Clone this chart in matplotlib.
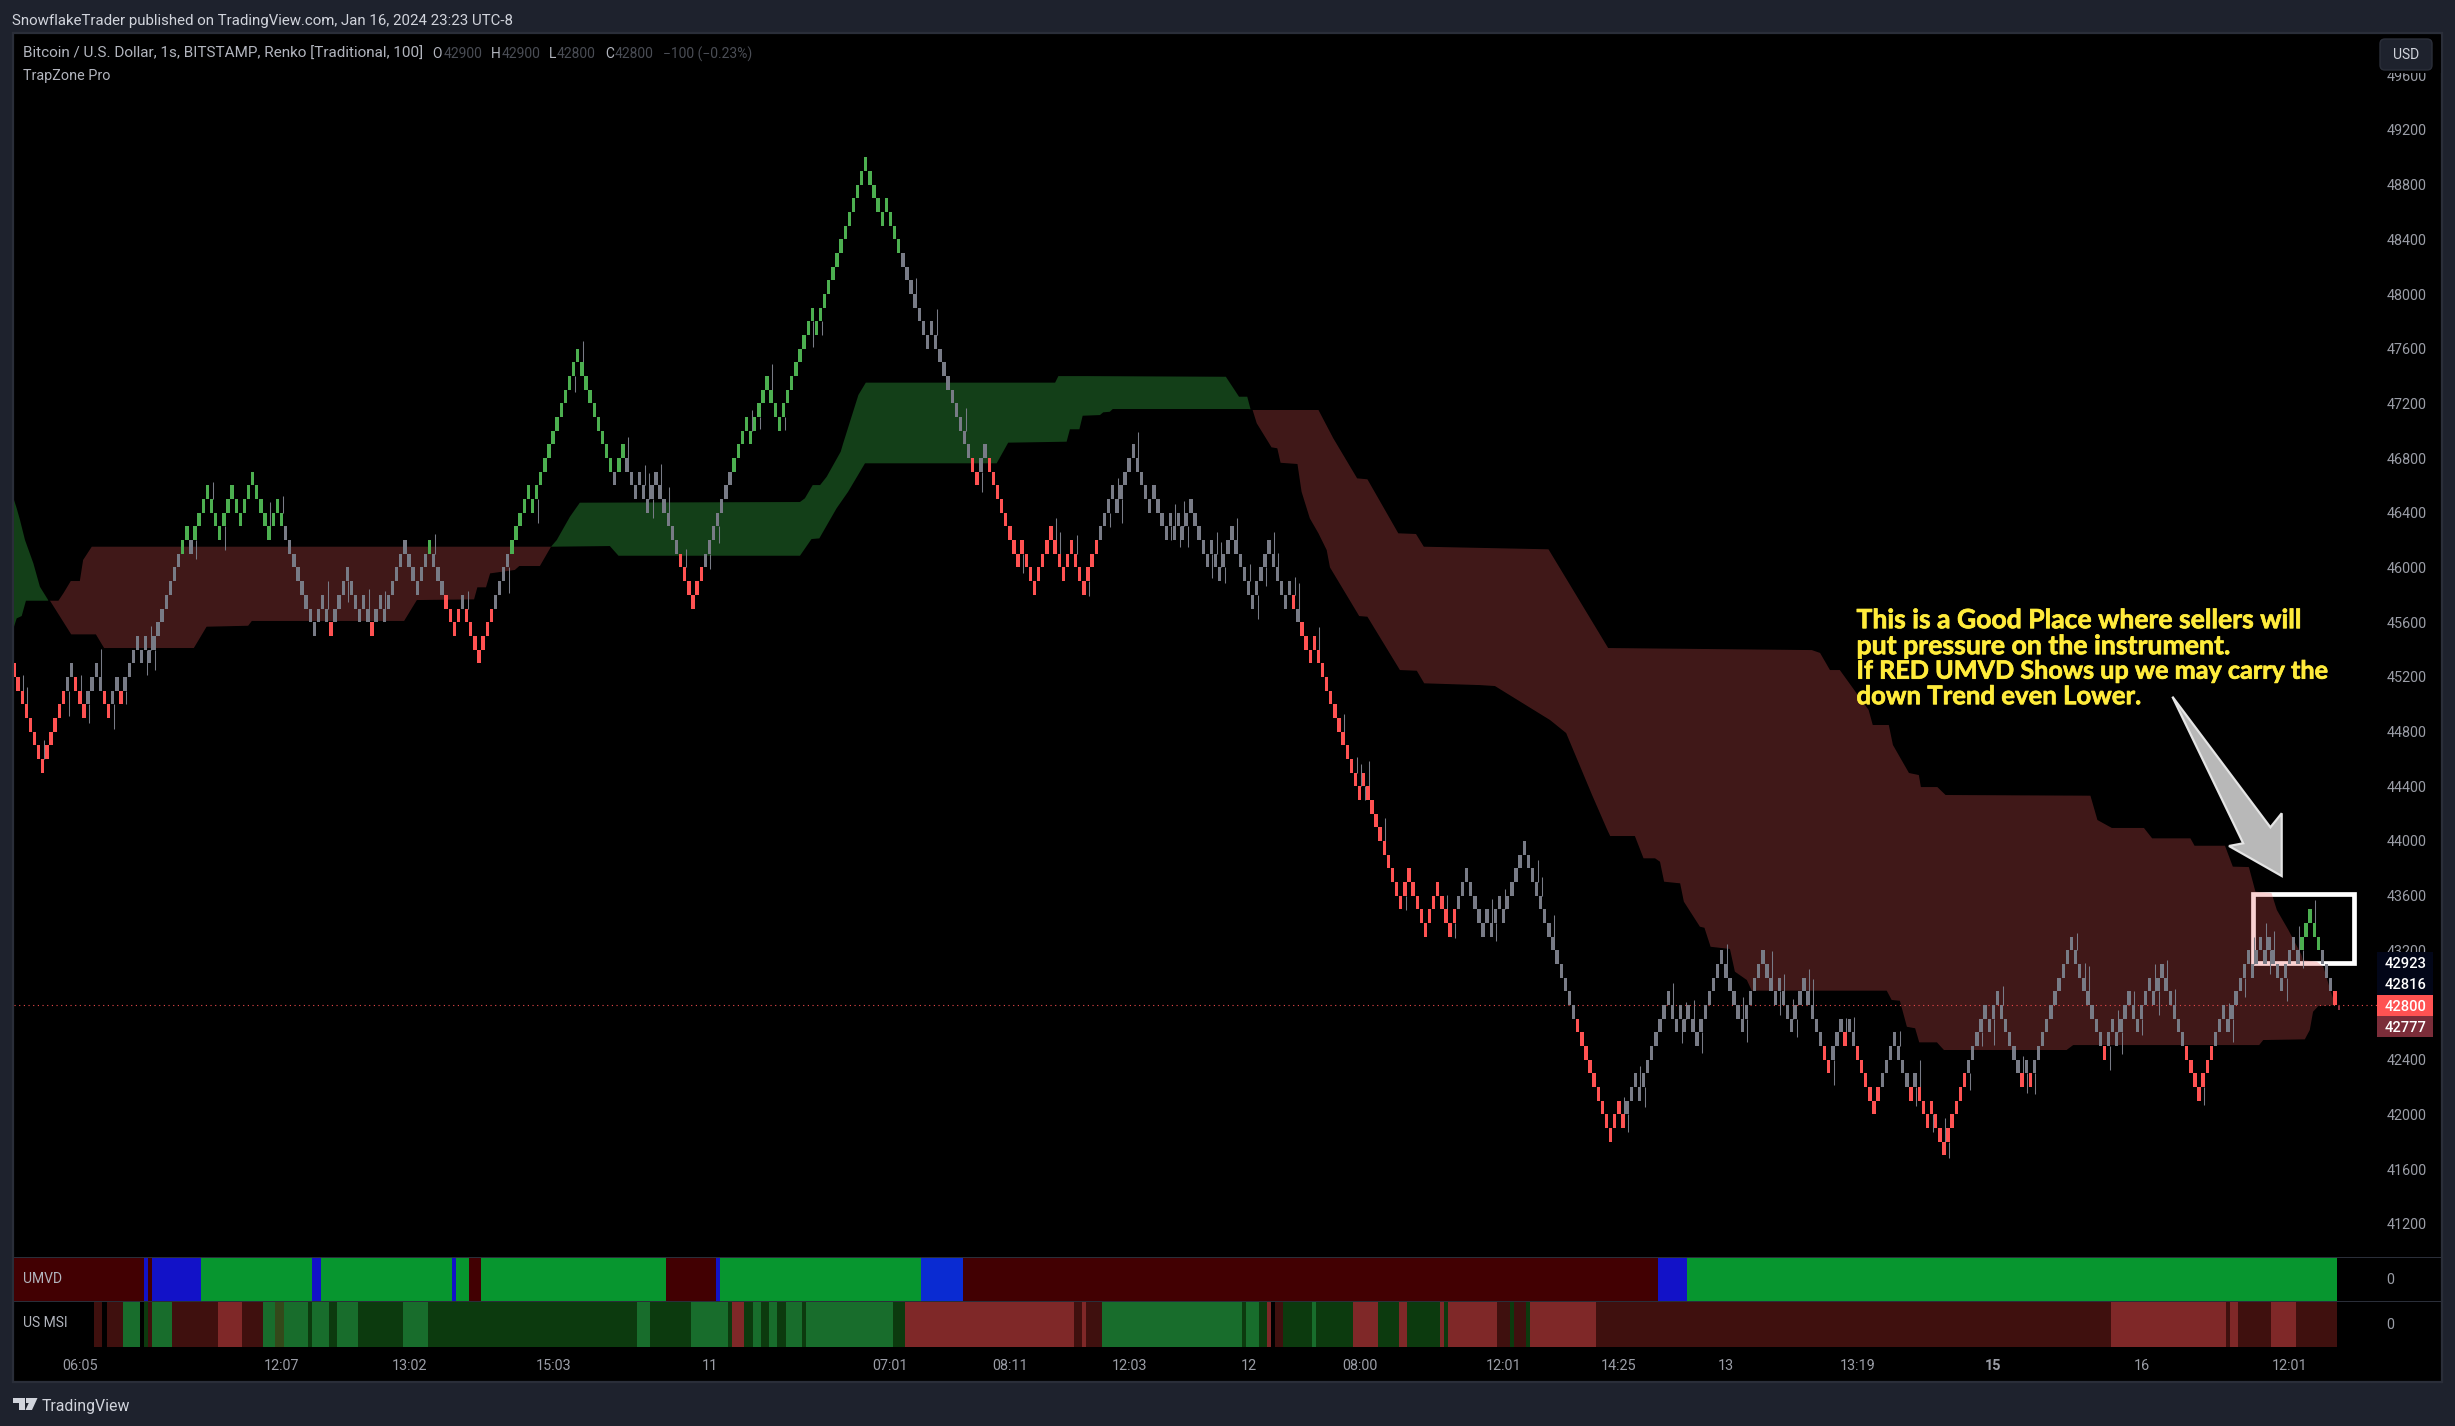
import matplotlib
matplotlib.use("Agg")
import matplotlib.pyplot as plt
import matplotlib.patheffects as pe
from matplotlib.patches import Rectangle, Polygon, FancyBboxPatch
import numpy as np

plt.rcParams['font.family'] = ['Roboto', 'DejaVu Sans']

W, H = 2455, 1426
BG, PANEL, LINE = '#1e222d', '#000000', '#2a2e39'
TXT, DIM, AXT = '#b2b5be', '#4a4d55', '#9a9da6'
GRAY, RED, GREEN = '#787b86', '#ff5252', '#4caf50'

# Renko bricks: (colour kind, lower edge of each brick in hundreds of USD)
brick_runs = [
 ('R',[452,451,450,449,448,447,446,445,446,447,448,449,450]),
 ('N',[451,452]), ('R',[451,450,449]), ('N',[450,451,452,451]), ('R',[450,449]),
 ('N',[450,451]), ('R',[450]),
 ('N',[451,452,453,454,453,454,453,454,455,456,457,458,459,460]),
 ('G',[461,462]), ('N',[461]),
 ('G',[462,463,464,465,464,463,462,463,464,465,464,463,464,465,466,465,464,463,462,463,464,463]),
 ('N',[462,461,460,459,458,457,456,455,456,457,456]), ('R',[455]),
 ('N',[456,457,458,459,458,457,456,457,456]), ('R',[455]),
 ('N',[456,457,456,457,458,459,460,461,460,459,458,459,460]), ('G',[461]),
 ('N',[460,459,458]), ('R',[457,456,455,456]), ('N',[457]),
 ('R',[456,455,454,453,454,455,456]), ('N',[457,458,459,460]),
 ('G',[461,462,463,464,465,464,465,466,467,468,469,470,471,472,473,474,475,474,473,472,471,470,469,468,467]),
 ('N',[466]), ('G',[467,468]),
 ('N',[467,466,465,466,465,464,465,466,465,464,463,462,461]),
 ('R',[460,459,458,457,458,459]), ('N',[460,461,462,463,464,465,466]),
 ('G',[467,468,469,470,469,470,471,472,473,472,471,470,471,472,473,474,475,476,477,478,477,478,479,480,481,482,483,484,485,486,487,488,489,488,487,486,485,486,485,484,483]),
 ('N',[482,481,480,479,478,477,476,477,476,475,474,473,472,471,470,469,468]),
 ('R',[467,466]), ('N',[467,468]),
 ('R',[467,466,465,464,463,462,461,460,461,460,459,458,459,460,461,462,461,460,459,460,461,460,459,458,459,460,461]),
 ('N',[462,463,464,465,464,465,466,467,468,467,466,465,464,465,464,463,462,463,462,463,462,463,464,463,462,461,460,461,460,459,460,461,462,461,460,459,458,457,458,459,460,461,460,459,458,457,458]),
 ('R',[457]), ('N',[456]),
 ('R',[455,454,453,454,453,452,451,450,449,448,447,446,445,444,443,444,443,442,441,440,439,438,437,436,435,436,437,436,435,434,433,434,435,436,435,434,433,434]),
 ('N',[435,436,437,436,435,434]),
 ('N',[433,434,433,434,435,434,435,436,437,438,439,438,437,436,435,434,433,432,431,430,429,428,427]),
 ('R',[426,425,424,423,422,421,420,419,418,419,420,419]),
 ('N',[420,421,422,421,422,423,424,425,426,427,428,427,426,427,426,427,426,425,426,427,428,429,430,431,430,429,428,427,426,427,428,429,430,431,430,429,428,429,428,427,426,427,428,429,428,427,426,425]),
 ('R',[424,423]), ('N',[424,425,426]), ('R',[425]), ('N',[426,425]),
 ('R',[424,423,422,421,420,421]), ('N',[422,423,424,425,424,423,422]),
 ('R',[421]), ('N',[422]),
 ('R',[421,420,419,420,419,418,417,418,419,420,421,422]), ('N',[423]),
 ('N',[424,425,426,427,426,427,428,427,426,425,424,423]), ('R',[422]), ('N',[423]), ('R',[422]),
 ('N',[423,424,425,426,427,428,429,430,431,432,431,430,429,428,427,426,425]), ('R',[424]),
 ('N',[425,426,425,426,427,428,427,426,427,428,429,428,429,430,429,428,427,426,425]),
 ('R',[424,423,422,421,422,423,424]),
 ('N',[425,426,427,426,427,428,429,430,431,430,431,432,431,432,431,430,429,430,431,432,431]),
 ('G',[432,433,434,433,432]), ('N',[431,430,429]), ('R',[428]),
]
BRICK = 100

# Wick extremes: bar index and price reached
wick_idx = [2,3,7,13,16,18,21,24,27,32,33,34,44,48,51,62,65,76,81,86,90,102,110,
 120,127,136,138,149,153,154,155,157,159,163,169,171,179,181,184,187,194,196,219,224,231,235,
 273,253,254,245,258,261,266,268,269,281,282,283,284,285,291,292,293,294,297,300,302,304,306,307,311,312,317,323,326,327,328,329,333,338,348,350,
 359,360,362,370,371,374,381,391,392,395,396,403,405,406,408,410,416,420,421,427,429,430,432,433,436,437,442,445,447,458,463,462,466,469,470,475,
 478,481,483,488,489,491,501,503,504,509,511,512,515,517,520,521,523,525,532,538,539,542,544,547,548,549,552,555,556,559]
wick_price = [45214,45128,44738,44914,45214,44865,45404,44821,45001,45214,45574,45250,46062,46628,46128,46481,46525,45901,45750,45843,45828,46245,45828,
 45816,46328,47286,47657,46952,46750,46689,46359,46757,46586,46133,45986,46177,47152,47010,47486,47006,47615,47700,48115,47888,47164,46555,
 46989,46359,46262,45957,46238,45794,46299,46652,46328,46201,46462,46152,46489,46152,45921,46262,46184,45889,46359,46023,45623,45867,46257,46104,45928,45884,45562,44926,44611,44563,44299,44587,44165,43495,43605,43288,
 43573,43271,43646,43861,43734,43458,42598,42130,41874,42354,42056,42958,42520,42824,42837,42446,43244,42861,42532,43195,42727,43027,42841,42564,43061,42988,42215,42702,42710,42610,42398,42061,41874,41971,41679,42178,
 42503,42507,42939,42429,42159,42149,43329,43105,43088,42325,42763,42442,42905,42581,43097,42727,43129,42917,42071,42812,42532,42856,43300,43402,43027,43341,42829,43378,43068,43568]

# TrapZone bands: bar index and price of each outline
g0_up_i = [0,.65,1.46,2.67,4.7,6.3,8.3]
g0_up_p = [46494,46433,46347,46201,46031,45859,45762]
g0_lo_i = [0,.65,1.87,2.9,8.3]
g0_lo_p = [45567,45628,45645,45757,45757]

r1_up_i = [8.75,10.8,12,13.8,16,16.8,18.9,130.5]
r1_up_p = [45757,45757,45811,45901,45901,46055,46152,46152]
r1_lo_i = [8.75,13.9,19.9,21.9,43.7,46.8,56.9,57.8,94.8,97.9,111.8,112.6,114.7,115.7,121.7,122.8,127.8,130.5]
r1_lo_p = [45757,45511,45511,45411,45411,45567,45574,45609,45609,45762,45767,45855,45855,45957,45982,46011,46011,46152]

g2_up_i = [130.5,131.9,135.1,137.5,191,192.2,194.1,195.9,197.5,200.9,201.5,205.2,207,253,253.8,260.3,294.5,297.7,299.7,300.5]
g2_up_p = [46152,46201,46371,46474,46479,46506,46603,46603,46664,46847,46908,47262,47352,47352,47400,47400,47395,47249,47249,47157]
g2_lo_i = [130.5,144.8,146.9,191,193.8,195.7,199.9,202.7,206.8,238.8,241.6,255.8,256.6,258.9,259.7,263.9,264.7,266.3,267,300,300.5]
g2_lo_p = [46152,46157,46086,46086,46208,46213,46433,46554,46762,46762,46913,46920,47011,47011,47110,47115,47135,47139,47159,47159,47157]

r3_up_i = [301,317,320.6,326.4,328.9,336.4,340.7,342.6,372.9,387.4,436.9,438.9,441.3,443.7,450.7,451.7,455.6,456.6,460.5,462.9,463.4,467.4,469.4,504.6,506.3,509.8,517.6,519.6,528.9,529.9,537.3,539.2,543.1,544.7,548.6,549.9,552.7,555.9,556.2,559.6,561.2,562.9,564.1]
r3_up_p = [47152,47152,46945,46652,46645,46250,46245,46152,46133,45411,45396,45375,45250,45250,44958,44848,44848,44702,44497,44482,44394,44394,44336,44331,44153,44095,44095,44019,44019,43965,43965,43812,43809,43629,43619,43495,43349,43166,43129,43117,43080,42910,42800]
r3_lo_i = [301,302,305.6,307,307.8,311.9,312.9,314.9,317,319,319.8,326.9,328.9,336.8,340.9,342.7,356.3,359.9,373.3,377.2,383.5,387.2,387.9,393.9,396,398.8,400,401,404.9,405.8,409.7,410.8,412.3,417,418.2,421.1,422.3,455.1,456.3,458.3,460,462,463,467.3,469,498.8,500.4,545.6,546.6,556.7,557.9,558.7,560,564.1]
r3_lo_p = [47152,47055,46879,46872,46766,46757,46554,46360,46250,46128,46001,45645,45640,45250,45245,45153,45140,45133,44884,44789,44336,44080,44036,44036,43873,43873,43848,43702,43690,43556,43373,43365,43226,43210,43044,42983,42905,42905,42837,42831,42641,42630,42527,42527,42471,42471,42507,42507,42544,42549,42617,42751,42793,42800]

# Indicator panes: colour code and number of bars per run
umvd_codes = ['D','B','D','B','G','B','G','B','G','D','G','D','B','G','C','D','B','G']
umvd_runs  = [32,1,1,12,27,2,32,1,3,3,45,12,1,49,10,169,7,158]

msi_edges = [20,22,23,27,31,32,33,34,39,50,56,61,64,66,72,73,77,79,84,95,101,152,155,165,174,175,178,180,182,184,186,188,192,193,214,217,258,260,261,265,299,300,303,305,306,307,309,316,317,326,332,337,339,347,348,349,361,364,365,368,369,385,510,538,539,541,549,555,565]
msi_codes = ['r','k','r','e','k','g','r','e','r','m','r','e','o','e','g','e','g','e','g','e','g','e','g','e','g','m','g','e','g','e','g','e','g','e','g','m','r','m','r','e','g','e','g','m','k','r','g','e','g','m','g','m','g','m','g','m','r','g','r','g','m','r','m','r','m','r','m','r']

time_idx = [16,65,96,131,169,213,242,271,300,327,362,390,416,448,481,517,553]
time_lab = ['06:05','12:07','13:02','15:03','11','07:01','08:11','12:03','12','08:00','12:01','14:25','13','13:19','15','16','12:01']
price_ticks = list(range(41200, 49601, 400))
last_price, indicator_price = 42800, 42777

# ---------------------------------------------------------------- layout
PX_BAR, X0 = 4.115, 14
X_END = 2377
fig = plt.figure(figsize=(W/100, H/100), dpi=100, facecolor=BG)

def fx(x): return x / W
def fy(y): return 1 - y / H
def axes_px(l, t, r, b, **kw):
    return fig.add_axes([fx(l), fy(b), (r-l)/W, (b-t)/H], **kw)
def frect(l, t, r, b, z=0.5, **kw):
    p = Rectangle((fx(l), fy(b)), (r-l)/W, (b-t)/H, transform=fig.transFigure, zorder=z, **kw)
    fig.add_artist(p); return p
def ftext(x, y, s, width=None, size=10.4, color=TXT, ha='left', z=5, **kw):
    t = fig.text(fx(x), fy(y + 1.2), s, ha=ha, va='center', fontsize=size, color=color, zorder=z, **kw)
    if width:
        w = t.get_window_extent(fig.canvas.get_renderer()).width
        t.set_fontsize(size * width / w)
    return t

frect(13, 33, 2442, 1382, z=-1, facecolor=PANEL, edgecolor=LINE, linewidth=1.6)

xlim = (0, (X_END - X0) / PX_BAR)
ax = axes_px(X0, 34, X_END, 1257, zorder=1)
ax.set_facecolor('none')
ax.set_xlim(*xlim)
ax.set_ylim(40957, 49902)
for s in ax.spines.values(): s.set_visible(False)
ax.set_xticks([])
ax.yaxis.tick_right()
ax.set_yticks(price_ticks)
ax.set_yticklabels([str(p) for p in price_ticks])
ax.tick_params(axis='y', length=0, pad=7, labelsize=10.4, labelcolor=AXT)

# annotation box lies below the translucent band
ax.add_patch(Rectangle((544, 43104), 24.7, 506, fill=False, edgecolor='white', linewidth=3.4, zorder=1))

RB = (237/255, 92/255, 92/255, 0.27)
GB = '#133f18'
def band(ui, up, li, lp, col):
    ax.fill(list(ui) + list(li)[::-1], list(up) + list(lp)[::-1], color=col, linewidth=0, zorder=2)
band(g0_up_i, g0_up_p, g0_lo_i, g0_lo_p, GB)
band(r1_up_i, r1_up_p, r1_lo_i, r1_lo_p, RB)
band(g2_up_i, g2_up_p, g2_lo_i, g2_lo_p, GB)
band(r3_up_i, r3_up_p, r3_lo_i, r3_lo_p, RB)

lows = np.array([v for _, r in brick_runs for v in r]) * BRICK
kinds = [k for k, r in brick_runs for _ in r]
cols = [{'R': RED, 'G': GREEN, 'N': GRAY}[k] for k in kinds]
idx = np.arange(len(lows))

wb, wt = [], []
for i, p in zip(wick_idx, wick_price):
    lo, hi = lows[i], lows[i] + BRICK
    if p > hi: wb.append(hi); wt.append(p)
    elif p < lo: wb.append(p); wt.append(lo)
    else: wb.append(p); wt.append(p)
ax.vlines(np.array(wick_idx) + 0.25, wb, wt, color=GRAY, linewidth=0.75, zorder=3)
ax.bar(idx, BRICK, bottom=lows, width=0.82, color=cols, linewidth=0, zorder=4, antialiased=False)

ax.axhline(last_price, color='#e8494b', linewidth=0.8, linestyle=(0, (1, 3.2)), zorder=3)
ax.bar([len(lows)], 25, bottom=indicator_price - 12, width=0.7, color='#8a3040', linewidth=0, zorder=4)

# ---------------------------------------------------------------- panes
UC = {'D': '#420002', 'B': '#1212c8', 'C': '#0a2bd2', 'G': '#07962f'}
MC = {'r': '#3f100e', 'm': '#7f2828', 'g': '#0c3a0e', 'e': '#186d2c', 'o': '#33491a', 'k': '#000000'}

a1 = axes_px(X0, 1258, X_END, 1301, zorder=1)
a2 = axes_px(X0, 1302, X_END, 1347, zorder=1)
for a in (a1, a2):
    a.set_facecolor('none'); a.set_xlim(*xlim); a.set_ylim(0, 1); a.set_yticks([])
    for s in a.spines.values(): s.set_visible(False)
a1.set_xticks([])
starts = np.r_[0, np.cumsum(umvd_runs)[:-1]] - 0.5
a1.bar(starts, 1, width=umvd_runs, align='edge', color=[UC[c] for c in umvd_codes], linewidth=0)
e = np.array(msi_edges, float) - 0.5
a2.bar(e[:-1], 1, width=np.diff(e), align='edge', color=[MC[c] for c in msi_codes], linewidth=0)
a2.set_xticks(time_idx)
a2.set_xticklabels(time_lab)
a2.tick_params(axis='x', length=0, pad=8.5, labelsize=10.4, labelcolor=AXT)
a2.get_xticklabels()[14].set_fontweight('bold')

for yy in (1257.3, 1301.4):
    frect(14, yy - 0.7, 2442, yy + 0.7, z=3, facecolor=LINE, linewidth=0)
ftext(23, 1278, 'UMVD', size=10)
ftext(23, 1322, 'US MSI', size=10)
ftext(2390.5, 1279, '0', color=AXT, ha='center')
ftext(2390.5, 1324, '0', color=AXT, ha='center')

# ---------------------------------------------------------------- header / legend
ftext(12.5, 20, 'SnowflakeTrader published on TradingView.com, Jan 16, 2024 23:23 UTC-8', width=500, color='#d1d4dc')
ftext(23, 53, 'Bitcoin / U.S. Dollar, 1s, BITSTAMP, Renko [Traditional, 100]', width=399)
for x, s, c in [(432.5,'O',TXT),(443.5,'42900',DIM),(490.6,'H',TXT),(501.5,'42900',DIM),(549,'L',TXT),(557,'42800',DIM),(605,'C',TXT),(615,'42800',DIM),(663,'\u2212100 (\u22120.23%)',DIM)]:
    ftext(x, 53, s, color=c, size=10)
ftext(23, 75, 'TrapZone Pro')

# footer logo
LOGO = '#d1d4dc'
def poly(pts, **kw):
    p = Polygon([(fx(a), fy(b)) for a, b in pts], closed=True, transform=fig.transFigure, **kw)
    fig.add_artist(p); return p
poly([(13,1398),(25,1398),(25,1410),(19,1410),(19,1403),(13,1403)], facecolor=LOGO, linewidth=0)
poly([(31,1398),(37.5,1398),(32,1410),(25.5,1410)], facecolor=LOGO, linewidth=0)
frect(26, 1398, 30.5, 1402.5, z=2, facecolor=LOGO, linewidth=0)
ftext(42, 1405, 'TradingView', width=88, color=LOGO)

# ---------------------------------------------------------------- price labels
frect(2378, 35, 2441, 73, z=3, facecolor=PANEL, linewidth=0)
btn = FancyBboxPatch((fx(2380), fy(70)), 52/W, 31/H, boxstyle='round,pad=0,rounding_size=0.002',
                     transform=fig.transFigure, facecolor=BG, edgecolor=LINE, linewidth=1, zorder=4,
                     mutation_aspect=W/H)
fig.add_artist(btn)
ftext(2406, 54, 'USD', ha='center', color='#d1d4dc', size=10)

frect(2377, 952.3, 2433, 995, z=3, facecolor='#020618', linewidth=0)
frect(2377, 995, 2433, 1016, z=3, facecolor=RED, linewidth=0)
frect(2377, 1016, 2433, 1037, z=3, facecolor='#7b2d39', linewidth=0)
for y, s in [(962.7,'42923'),(984,'42816'),(1005.5,'42800'),(1026.5,'42777')]:
    ftext(2406, y, s, ha='center', color='white', size=10.6, fontweight='medium')

# ---------------------------------------------------------------- drawing annotation
poly([(2172.4,696.7),(2270.4,827.3),(2281.7,813.3),(2281.7,876),(2229,846),(2243.2,843.3)],
     facecolor='#b8b8b8', edgecolor='#e4e4e4', linewidth=1.6, zorder=4, joinstyle='miter')
notes = ['This is a Good Place where sellers will', 'put pressure on the instrument.',
         'If RED UMVD Shows up we may carry the', 'down Trend even Lower.']
note_widths = [445.5, 374.6, 472, 285.5]
for y, s, w in zip((619, 645, 670, 695), notes, note_widths):
    t = ftext(1856.5, y, s, width=w, size=17, color='#ffeb3b', fontfamily='Lato', fontweight='bold')
    t.set_path_effects([pe.withStroke(linewidth=0.5, foreground='#ffeb3b')])

fig.savefig('out.png', dpi=100, facecolor=BG)
